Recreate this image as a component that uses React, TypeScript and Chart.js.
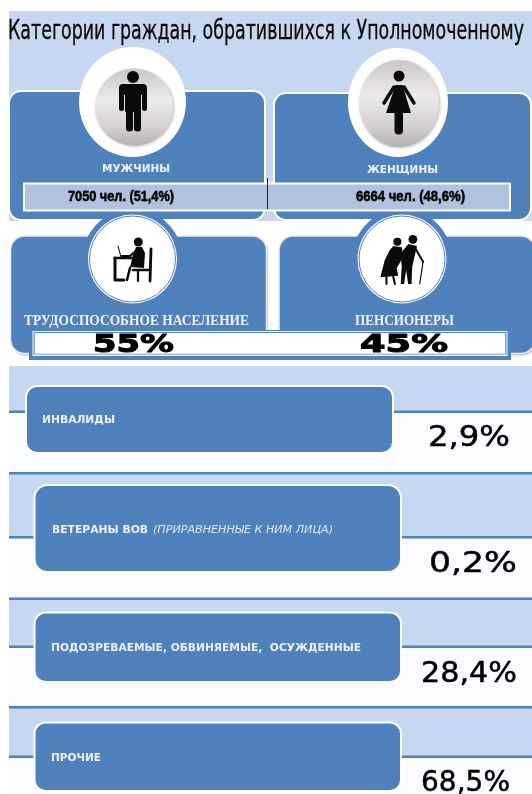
import React, { useEffect, useRef } from "react";
import { Chart, registerables } from "chart.js";

Chart.register(...registerables);

const TITLE = "Категории граждан, обратившихся к Уполномоченному";
const rowCategories = ["Пол", "Группа"];
const genderNames = ["МУЖЧИНЫ", "ЖЕНЩИНЫ"];
const genderCounts = [7050, 6664];
const genderShares = ["51,4", "48,6"];
const groupNames = ["ТРУДОСПОСОБНОЕ НАСЕЛЕНИЕ", "ПЕНСИОНЕРЫ"];
const groupShares = [55, 45];
const otherCategories = ["ИНВАЛИДЫ", "ВЕТЕРАНЫ ВОВ", "ПОДОЗРЕВАЕМЫЕ, ОБВИНЯЕМЫЕ,  ОСУЖДЕННЫЕ", "ПРОЧИЕ"];
const otherNote = "(ПРИРАВНЕННЫЕ К НИМ ЛИЦА)";
const otherShares = ["2,9", "0,2", "28,4", "68,5"];

const BLUE = "#4F81BD";
const LIGHT = "#C6D8F0";
const PALE = "#FBFCFF";
const LABEL = "#EEF2F8";
const INK = "#0A0A0A";

type C = CanvasRenderingContext2D;

function rr(c: C, x: number, y: number, w: number, h: number, r: number, fill?: string, stroke?: string, lw = 2) {
  c.beginPath();
  c.roundRect(x, y, w, h, r);
  if (fill) { c.fillStyle = fill; c.fill(); }
  if (stroke) { c.strokeStyle = stroke; c.lineWidth = lw; c.stroke(); }
}
function disc(c: C, x: number, y: number, rx: number, fill: string | CanvasGradient, ry = rx) {
  c.beginPath();
  c.ellipse(x, y, rx, ry, 0, 0, Math.PI * 2);
  c.fillStyle = fill;
  c.fill();
}
// Draws s so that it spans exactly from x to x + width.
function fit(c: C, s: string, x: number, y: number, width: number, font: string, color: string, weight = 0) {
  c.save();
  c.font = font;
  c.fillStyle = color;
  c.textBaseline = "middle";
  c.textAlign = "left";
  const natural = c.measureText(s).width;
  c.translate(x, y);
  c.scale(width / natural, 1);
  c.fillText(s, 0, 0);
  if (weight) {
    c.strokeStyle = color;
    c.lineWidth = weight;
    c.lineJoin = "round";
    c.strokeText(s, 0, 0);
  }
  c.restore();
}
function poly(c: C, pts: number[][]) {
  c.beginPath();
  pts.forEach(([x, y], i) => (i ? c.lineTo(x, y) : c.moveTo(x, y)));
  c.closePath();
  c.fill();
}
function line(c: C, pts: number[][], w: number) {
  c.beginPath();
  pts.forEach(([x, y], i) => (i ? c.lineTo(x, y) : c.moveTo(x, y)));
  c.lineWidth = w;
  c.stroke();
}
function ink(c: C) {
  c.fillStyle = INK;
  c.strokeStyle = INK;
  c.lineCap = "round";
  c.lineJoin = "round";
}

function greyDisc(c: C, x: number, y: number, rx: number, ry: number) {
  const g = c.createLinearGradient(0, y - ry, 0, y + ry);
  g.addColorStop(0, "#CBC7C9");
  g.addColorStop(0.4, "#EDEAEC");
  g.addColorStop(0.75, "#D6D2D4");
  g.addColorStop(1, "#B3AFB3");
  c.save();
  c.shadowColor = "rgba(0,0,0,0.28)";
  c.shadowBlur = 3;
  c.shadowOffsetX = 1;
  c.shadowOffsetY = 1;
  disc(c, x, y, rx, g, ry);
  c.restore();
}

function drawMan(c: C) {
  c.save();
  ink(c);
  disc(c, 133, 77, 6, INK);
  rr(c, 119, 84, 28, 11, 4, INK);
  rr(c, 125, 86, 16, 26, 1, INK);
  rr(c, 119, 87, 5, 24, 2.5, INK);
  rr(c, 142, 87, 5, 24, 2.5, INK);
  rr(c, 126, 106, 7, 25.5, 3, INK);
  rr(c, 134, 106, 7, 25.5, 3, INK);
  c.restore();
}
function drawWoman(c: C) {
  c.save();
  ink(c);
  disc(c, 399, 76, 5.5, INK);
  poly(c, [[395.5, 85], [402.5, 85], [411, 113], [386, 113]]);
  line(c, [[394, 87], [384, 103]], 3.5);
  line(c, [[404, 87], [414, 103]], 3.5);
  rr(c, 394.5, 110, 8.5, 24.5, 4, INK);
  c.restore();
}
function drawWorker(c: C) {
  c.save();
  ink(c);
  disc(c, 138.3, 242, 4.5, INK);
  poly(c, [[136, 247], [142, 247], [145, 253], [144, 268], [130, 267], [133, 255]]);
  c.strokeStyle = INK;
  line(c, [[137, 250], [130, 256], [122, 256]], 2.2);
  line(c, [[118, 246], [121, 257]], 1);
  line(c, [[114.5, 258], [135, 258]], 2.5);
  line(c, [[115, 258], [115, 280], [124, 280]], 3);
  line(c, [[130, 268], [127, 280]], 2.5);
  line(c, [[151, 249], [150, 281]], 2.8);
  line(c, [[133, 270], [150, 270]], 2.6);
  line(c, [[138, 270], [138, 281]], 2.2);
  c.restore();
}
function drawCouple(c: C) {
  c.save();
  c.translate(0, 210);
  c.scale(0.339, 1 / 3);
  ink(c);
  disc(c, 1172, 95, 12, INK);
  poly(c, [[1160, 108], [1185, 112], [1190, 140], [1170, 175], [1175, 197], [1122, 202], [1135, 150], [1150, 120]]);
  line(c, [[1140, 200], [1140, 222]], 6);
  line(c, [[1160, 200], [1165, 222]], 6);
  disc(c, 1218, 88, 13, INK);
  poly(c, [[1182, 130], [1205, 102], [1230, 108], [1216, 170], [1214, 222], [1204, 222], [1198, 180], [1192, 222], [1182, 222], [1185, 170]]);
  line(c, [[1225, 115], [1248, 155]], 6);
  line(c, [[1248, 155], [1238, 222]], 3.5);
  c.restore();
}

const decorBelow = {
  id: "decorBelow",
  beforeDatasetsDraw(chart: Chart) {
    const c = chart.ctx as C;
    c.save();
    // page blocks
    c.fillStyle = LIGHT;
    c.fillRect(9, 11, 523, 210);
    c.fillStyle = PALE;
    c.fillRect(9, 366, 523, 428);
    c.fillStyle = LIGHT;
    [[366, 45], [473, 64], [598, 48], [707, 49]].forEach(([y, h]) => c.fillRect(9, y, 523, h));
    c.fillStyle = BLUE;
    [410.5, 472, 536, 597.5, 645.5, 706, 755.5].forEach((y) => c.fillRect(9, y, 523, 2.5));

    // gender panels
    rr(c, 9, 91, 256, 129, 12, BLUE, "#FFFFFF", 2);
    rr(c, 274, 93, 257, 127, 12, BLUE, "#FFFFFF", 2);

    disc(c, 132.5, 102, 53.5, "#FFFFFF", 55);
    disc(c, 398, 102.5, 50, "#FFFFFF", 54.5);
    greyDisc(c, 134, 107, 39, 38.5);
    greyDisc(c, 399, 103.5, 40, 43.5);
    drawMan(c);
    drawWoman(c);

    fit(c, genderNames[0], 102, 169, 68, "bold 11px 'DejaVu Sans'", LABEL);
    fit(c, genderNames[1], 367, 170, 71, "bold 11px 'DejaVu Sans'", LABEL);

    // group panels
    c.save();
    c.shadowColor = "rgba(90,90,100,0.55)";
    c.shadowBlur = 2;
    c.shadowOffsetX = 1;
    c.shadowOffsetY = 1.5;
    rr(c, 10.5, 236, 256, 117.5, 14, BLUE);
    rr(c, 279, 236, 256, 117.5, 14, BLUE);
    c.restore();
    rr(c, 10.5, 236, 256, 117.5, 14, undefined, "#ECEDF0", 1.5);
    rr(c, 279, 236, 256, 117.5, 14, undefined, "#ECEDF0", 1.5);
    [132.5, 402].forEach((x) => {
      disc(c, x, 259, 50, BLUE);
      disc(c, x, 259, 44.5, "#FFFFFF");
      c.beginPath();
      c.arc(x, 259, 43, 0, Math.PI * 2);
      c.strokeStyle = BLUE;
      c.lineWidth = 1;
      c.stroke();
    });
    drawWorker(c);
    drawCouple(c);
    const serif = "bold 15px 'Liberation Serif'";
    fit(c, groupNames[0], 24, 321, 225, serif, LABEL);
    fit(c, groupNames[1], 355, 321, 99, serif, LABEL);

    // frame of the share band
    c.fillStyle = BLUE;
    c.fillRect(29, 330, 482, 30);
    c.fillStyle = "#FFFFFF";
    c.fillRect(32.5, 331, 475, 25);
    c.fillStyle = BLUE;
    c.fillRect(33.5, 332, 473, 22.5);

    // lower boxes
    rr(c, 26, 386, 367, 67, 11, BLUE, "#FFFFFF", 2);
    rr(c, 34.5, 485, 366.5, 87, 13, BLUE, "#FFFFFF", 2);
    rr(c, 34.5, 612.5, 366.5, 69.5, 11, BLUE, "#FFFFFF", 2);
    rr(c, 34.5, 722.5, 366.5, 68.5, 11, BLUE, "#FFFFFF", 2);
    c.restore();
  },
};

const decorAbove = {
  id: "decorAbove",
  afterDatasetsDraw(chart: Chart) {
    const c = chart.ctx as C;
    c.save();
    // band outline and divider
    c.strokeStyle = "#FFFFFF";
    c.lineWidth = 2;
    c.strokeRect(24, 183.5, 486, 27);
    c.fillStyle = "#222222";
    c.fillRect(267, 178, 1, 31);

    fit(c, TITLE, 8, 32, 516, "27px 'DejaVu Sans'", INK, 0.35);

    const gFont = "bold 14px 'Liberation Sans'";
    c.save();
    c.shadowColor = "rgba(0,0,0,0.4)";
    c.shadowBlur = 1;
    fit(c, `${genderCounts[0]} чел. (${genderShares[0]}%)`, 68, 197.5, 106, gFont, "#000", 0.3);
    fit(c, `${genderCounts[1]} чел. (${genderShares[1]}%)`, 356, 197.5, 109, gFont, "#000", 0.3);
    c.restore();

    const gsFont = "bold 25px 'DejaVu Sans'";
    fit(c, `${groupShares[0]}%`, 93, 345.5, 81, gsFont, "#000", 1);
    fit(c, `${groupShares[1]}%`, 360, 345.5, 88, gsFont, "#000", 1);

    const bf = "bold 11px 'DejaVu Sans'";
    fit(c, otherCategories[0], 42, 420, 73, bf, LABEL);
    fit(c, otherCategories[1], 52, 530, 96, bf, LABEL);
    fit(c, otherNote, 153, 530, 180, "italic 11px 'DejaVu Sans'", "#DDE6F2");
    fit(c, otherCategories[2], 51, 648, 310, bf, LABEL);
    fit(c, otherCategories[3], 51, 758, 50, bf, LABEL);

    const pf = "29px 'DejaVu Sans'";
    fit(c, `${otherShares[0]}%`, 428, 438, 82, pf, "#000", 0.5);
    fit(c, `${otherShares[1]}%`, 429, 564, 88, pf, "#000", 0.5);
    fit(c, `${otherShares[2]}%`, 421, 674, 96, pf, "#000", 0.5);
    fit(c, `${otherShares[3]}%`, 421, 783, 89, pf, "#000", 0.5);
    c.restore();
  },
};

export default function App() {
  const ref = useRef<HTMLCanvasElement>(null);
  useEffect(() => {
    document.body.style.margin = "0";
    const chart = new Chart(ref.current!, {
      type: "bar",
      data: {
        labels: rowCategories,
        datasets: [
          { label: genderNames[0], data: [genderCounts[0], null], xAxisID: "x", backgroundColor: "#B0C2DE", barThickness: 27, borderWidth: 0 },
          { label: genderNames[1], data: [genderCounts[1], null], xAxisID: "x", backgroundColor: "#B0C2DE", barThickness: 27, borderWidth: 0 },
          { label: groupNames[0], data: [null, groupShares[0]], xAxisID: "x2", backgroundColor: "#FFFFFF", barThickness: 20, borderWidth: 0 },
          { label: groupNames[1], data: [null, groupShares[1]], xAxisID: "x2", backgroundColor: "#FFFFFF", barThickness: 20, borderWidth: 0 },
        ],
      },
      options: {
        indexAxis: "y",
        responsive: false,
        animation: false,
        events: [],
        layout: { padding: { left: 24, right: 22, top: 123.85, bottom: 377.55 } },
        plugins: { legend: { display: false }, tooltip: { enabled: false }, title: { display: false } },
        scales: {
          x: { display: false, stacked: true, min: 0, max: genderCounts[0] + genderCounts[1] },
          x2: { display: false, stacked: true, min: -2.34, max: 101.06 },
          y: { display: false, stacked: true },
        },
      },
      plugins: [decorBelow, decorAbove],
    } as any);
    return () => chart.destroy();
  }, []);
  return (
    <div style={{ position: "absolute", left: 0, top: 0, width: 532, height: 794, overflow: "hidden", background: "#fff" }}>
      <canvas ref={ref} width={532} height={794} style={{ display: "block" }} />
    </div>
  );
}
